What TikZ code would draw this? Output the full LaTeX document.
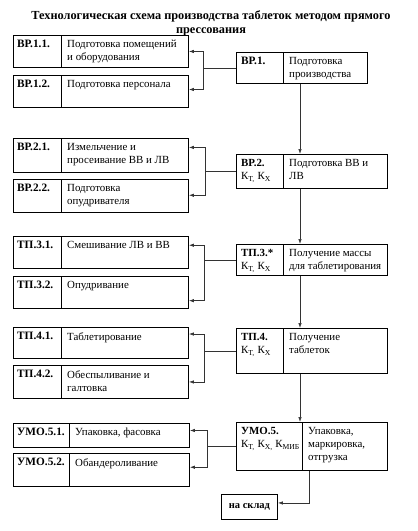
\documentclass[tikz,border=0pt]{standalone}
\usepackage{fontspec}
\setmainfont{Liberation Serif}
\usetikzlibrary{arrows.meta,positioning,calc}
\definecolor{lnk}{HTML}{333333}

\begin{document}
\begin{tikzpicture}[
    x=1pt, y=-1pt,
    cell/.style={rectangle, draw=black, line width=0.9pt, inner sep=0pt, anchor=north west},
    code/.style={anchor=north west, inner sep=0pt, font=\fontsize{11.3}{13}\selectfont\bfseries, align=left},
    txt/.style={anchor=north west, inner sep=0pt, font=\fontsize{10.9}{13}\selectfont, align=left},
    title/.style={font=\fontsize{12.3}{14}\selectfont\bfseries, align=center},
    arrow/.style={-{Latex[length=5pt,width=3.5pt]}, draw=lnk, line width=0.7pt},
    link/.style={draw=lnk, line width=0.7pt}
]
\useasboundingbox (0,0) rectangle (418,531);

% Title
\node[title] (ttl) at (211,23) {Технологическая схема производства таблеток методом прямого\\прессования};

% BP.1
\node[cell, minimum width=48pt, minimum height=32pt] (b11c) at (13,35) {};
\node[cell, minimum width=127pt, minimum height=32pt] (b11t) at (61,35) {};
\node[code] (b11k) at ([shift={(4pt,-5pt)}]b11c.north west) {ВР.1.1.};
\node[txt] (b11s) at ([shift={(6pt,-5pt)}]b11t.north west) {Подготовка помещений\\и оборудования};

\node[cell, minimum width=48pt, minimum height=32pt] (b12c) at (13,75) {};
\node[cell, minimum width=127pt, minimum height=32pt] (b12t) at (61,75) {};
\node[code] (b12k) at ([shift={(4pt,-5pt)}]b12c.north west) {ВР.1.2.};
\node[txt] (b12s) at ([shift={(6pt,-5pt)}]b12t.north west) {Подготовка персонала};

\node[cell, minimum width=47pt, minimum height=31pt] (bp1c) at (236,52) {};
\node[cell, minimum width=84pt, minimum height=31pt] (bp1t) at (283,52) {};
\node[code] (bp1k) at ([shift={(5pt,-5pt)}]bp1c.north west) {ВР.1.};
\node[txt] (bp1s) at ([shift={(6pt,-5pt)}]bp1t.north west) {Подготовка\\производства};

% BP.2
\node[cell, minimum width=48pt, minimum height=34pt] (b21c) at (13,138) {};
\node[cell, minimum width=127pt, minimum height=34pt] (b21t) at (61,138) {};
\node[code] (b21k) at ([shift={(4pt,-5pt)}]b21c.north west) {ВР.2.1.};
\node[txt] (b21s) at ([shift={(6pt,-5pt)}]b21t.north west) {Измельчение и\\просеивание ВВ и ЛВ};

\node[cell, minimum width=48pt, minimum height=33pt] (b22c) at (13,179) {};
\node[cell, minimum width=127pt, minimum height=33pt] (b22t) at (61,179) {};
\node[code] (b22k) at ([shift={(4pt,-5pt)}]b22c.north west) {ВР.2.2.};
\node[txt] (b22s) at ([shift={(6pt,-5pt)}]b22t.north west) {Подготовка\\опудривателя};

\node[cell, minimum width=47pt, minimum height=34pt] (bp2c) at (236,154) {};
\node[cell, minimum width=104pt, minimum height=34pt] (bp2t) at (283,154) {};
\node[txt] (bp2k) at ([shift={(5pt,-5pt)}]bp2c.north west) {\textbf{ВР.2.}\\К\textsubscript{Т,} К\textsubscript{Х}};
\node[txt] (bp2s) at ([shift={(6pt,-5pt)}]bp2t.north west) {Подготовка ВВ и\\ЛВ};

% TP.3
\node[cell, minimum width=48pt, minimum height=32pt] (t31c) at (13,236) {};
\node[cell, minimum width=127pt, minimum height=32pt] (t31t) at (61,236) {};
\node[code] (t31k) at ([shift={(4pt,-5pt)}]t31c.north west) {ТП.3.1.};
\node[txt] (t31s) at ([shift={(6pt,-5pt)}]t31t.north west) {Смешивание ЛВ и ВВ};

\node[cell, minimum width=48pt, minimum height=32pt] (t32c) at (13,276) {};
\node[cell, minimum width=127pt, minimum height=32pt] (t32t) at (61,276) {};
\node[code] (t32k) at ([shift={(4pt,-5pt)}]t32c.north west) {ТП.3.2.};
\node[txt] (t32s) at ([shift={(6pt,-5pt)}]t32t.north west) {Опудривание};

\node[cell, minimum width=47pt, minimum height=31pt] (tp3c) at (236,244) {};
\node[cell, minimum width=104pt, minimum height=31pt] (tp3t) at (283,244) {};
\node[txt] (tp3k) at ([shift={(5pt,-5pt)}]tp3c.north west) {\textbf{ТП.3.*}\\К\textsubscript{Т,} К\textsubscript{Х}};
\node[txt] (tp3s) at ([shift={(6pt,-5pt)}]tp3t.north west) {Получение массы\\для таблетирования};

% TP.4
\node[cell, minimum width=48pt, minimum height=31pt] (t41c) at (13,327) {};
\node[cell, minimum width=127pt, minimum height=31pt] (t41t) at (61,327) {};
\node[code] (t41k) at ([shift={(4pt,-5pt)}]t41c.north west) {ТП.4.1.};
\node[txt] (t41s) at ([shift={(6pt,-5pt)}]t41t.north west) {Таблетирование};

\node[cell, minimum width=48pt, minimum height=33pt] (t42c) at (13,365) {};
\node[cell, minimum width=127pt, minimum height=33pt] (t42t) at (61,365) {};
\node[code] (t42k) at ([shift={(4pt,-5pt)}]t42c.north west) {ТП.4.2.};
\node[txt] (t42s) at ([shift={(6pt,-5pt)}]t42t.north west) {Обеспыливание и\\галтовка};

\node[cell, minimum width=47pt, minimum height=45pt] (tp4c) at (236,328) {};
\node[cell, minimum width=104pt, minimum height=45pt] (tp4t) at (283,328) {};
\node[txt] (tp4k) at ([shift={(5pt,-5pt)}]tp4c.north west) {\textbf{ТП.4.}\\К\textsubscript{Т,} К\textsubscript{Х}};
\node[txt] (tp4s) at ([shift={(6pt,-5pt)}]tp4t.north west) {Получение\\таблеток};

% UMO.5
\node[cell, minimum width=56pt, minimum height=24pt] (u51c) at (13,423) {};
\node[cell, minimum width=120pt, minimum height=24pt] (u51t) at (69,423) {};
\node[code] (u51k) at ([shift={(4pt,-5pt)}]u51c.north west) {УМО.5.1.};
\node[txt] (u51s) at ([shift={(6pt,-5pt)}]u51t.north west) {Упаковка, фасовка};

\node[cell, minimum width=56pt, minimum height=33pt] (u52c) at (13,453) {};
\node[cell, minimum width=120pt, minimum height=33pt] (u52t) at (69,453) {};
\node[code] (u52k) at ([shift={(4pt,-5pt)}]u52c.north west) {УМО.5.2.};
\node[txt] (u52s) at ([shift={(6pt,-5pt)}]u52t.north west) {Обандероливание};

\node[cell, minimum width=66pt, minimum height=48pt] (um5c) at (236,422) {};
\node[cell, minimum width=85pt, minimum height=48pt] (um5t) at (302,422) {};
\node[txt] (um5k) at ([shift={(5pt,-5pt)}]um5c.north west) {\textbf{УМО.5.}\\К\textsubscript{Т,} К\textsubscript{Х,} К\textsubscript{МИБ}};
\node[txt] (um5s) at ([shift={(6pt,-5pt)}]um5t.north west) {Упаковка,\\маркировка,\\отгрузка};

% Store
\node[rectangle, draw=black, line width=0.9pt, minimum width=56pt, minimum height=25pt, inner sep=0pt,
      font=\fontsize{10.5}{12}\selectfont\bfseries, anchor=north west] (skl) at (221,494) {на склад};

% Branches to the left
\coordinate (j1) at ($(bp1c.west)+(-33,0)$);
\draw[link] (bp1c.west) -- (j1);
\draw[arrow] (j1) |- ($(b11t.north east)!.5!(b11t.south east)$);
\draw[arrow] (j1) |- ($(b12t.north east)!.44!(b12t.south east)$);

\coordinate (j2) at ($(bp2c.west)+(-31,0)$);
\draw[link] (bp2c.west) -- (j2);
\draw[arrow] (j2) |- ($(b21t.north east)!.27!(b21t.south east)$);
\draw[arrow] (j2) |- ($(b22t.north east)!.48!(b22t.south east)$);

\coordinate (j3) at ($(tp3c.west)+(-32,0)$);
\draw[link] (tp3c.west) -- (j3);
\draw[arrow] (j3) |- ($(t31t.north east)!.28!(t31t.south east)$);
\draw[arrow] (j3) |- ($(t32t.north east)!.75!(t32t.south east)$);

\coordinate (j4) at ($(tp4c.west)+(-32,0)$);
\draw[link] (tp4c.west) -- (j4);
\draw[arrow] (j4) |- ($(t41t.north east)!.22!(t41t.south east)$);
\draw[arrow] (j4) |- ($(t42t.north east)!.5!(t42t.south east)$);

\coordinate (j5) at ($(um5c.west)+(-29,0)$);
\draw[link] (um5c.west) -- (j5);
\draw[arrow] (j5) |- ($(u51t.north east)!.3!(u51t.south east)$);
\draw[arrow] (j5) |- ($(u52t.north east)!.42!(u52t.south east)$);

% Main line
\draw[arrow] ([xshift=17pt]bp1t.south west) -- ([xshift=17pt]bp2t.north west);
\draw[arrow] ([xshift=17pt]bp2t.south west) -- ([xshift=17pt]tp3t.north west);
\draw[arrow] ([xshift=17pt]tp3t.south west) -- ([xshift=17pt]tp4t.north west);
\draw[arrow] ([xshift=17pt]tp4t.south west) -- ([xshift=64pt]um5c.north west);
\draw[arrow] ([xshift=7pt]um5t.south west) |- ([yshift=4pt]skl.east);

\end{tikzpicture}
\end{document}
